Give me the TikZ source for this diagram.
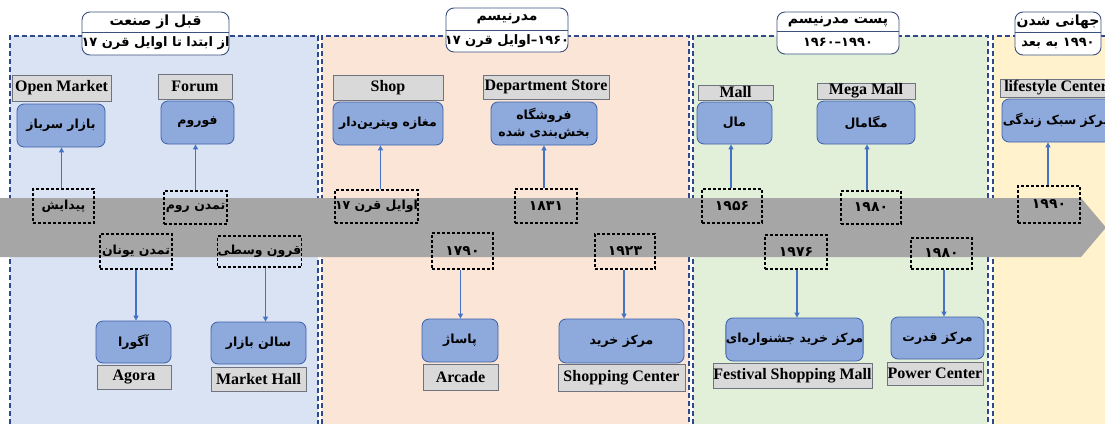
\documentclass[tikz,border=0pt]{standalone}
\usepackage{fontspec}
\setmainfont{Liberation Serif}
\newfontfamily\fa[Script=Arabic]{DejaVu Sans}
\TeXXeTstate=1
\usetikzlibrary{arrows.meta}
\newcommand\rtl[1]{\beginR #1\endR}
\newcommand\ltr[1]{\beginL #1\endL}
\definecolor{pOne}{HTML}{DAE3F3}
\definecolor{pTwo}{HTML}{FBE5D6}
\definecolor{pThree}{HTML}{E2F0D9}
\definecolor{pFour}{HTML}{FFF2CC}
\definecolor{pBorder}{RGB}{47,72,140}
\definecolor{bandGray}{HTML}{A6A6A6}
\definecolor{boxFill}{RGB}{142,169,219}
\definecolor{boxLine}{RGB}{61,96,170}
\definecolor{lblFill}{HTML}{D9D9D9}
\definecolor{lblLine}{RGB}{110,115,125}
\definecolor{arrBlue}{RGB}{68,114,196}
\definecolor{hdrLine}{RGB}{60,80,125}
\begin{document}
\begin{tikzpicture}[x=1pt,y=-1pt,
  panel/.style={draw=pBorder,line width=1.3pt,dash pattern=on 5pt off 3pt},
  lbl/.style={draw=lblLine,fill=lblFill,line width=0.8pt,inner sep=0pt,font=\bfseries\fontsize{16}{18}\selectfont},
  pbox/.style={draw=boxLine,fill=boxFill,rounded corners=7pt,line width=0.8pt,inner sep=0pt,align=center,font=\fa\bfseries\fontsize{12.5}{17}\selectfont},
  dbox/.style={draw=black,dash pattern=on 3pt off 2pt,line width=1.3pt,inner sep=0pt,font=\fa\bfseries\fontsize{12.5}{15}\selectfont},
  num/.style={font=\fa\bfseries\fontsize{14}{16}\selectfont},
  hdr/.style={draw=hdrLine,fill=white,rounded corners=8pt,line width=0.9pt},
  htop/.style={inner sep=0pt,font=\fa\bfseries\fontsize{14}{16}\selectfont},
  hbot/.style={inner sep=0pt,font=\fa\bfseries\fontsize{13}{15}\selectfont},
  link/.style={draw=arrBlue,line width=1.1pt,-{Triangle[length=5pt,width=5pt]}}
]
\useasboundingbox (0,0) rectangle (1105,423);
\clip (0,0) rectangle (1105,423);
% panels
\fill[pOne] (10,36) rectangle (318,440);
\draw[panel] (10,440) -- (10,36) -- (318,36) -- (318,440);
\fill[pTwo] (322,36) rectangle (689,440);
\draw[panel] (322,440) -- (322,36) -- (689,36) -- (689,440);
\fill[pThree] (693,36) rectangle (988,440);
\draw[panel] (693,440) -- (693,36) -- (988,36) -- (988,440);
\fill[pFour] (993,36) rectangle (1120,440);
\draw[panel] (993,440) -- (993,36) -- (1120,36);
% band
\fill[bandGray] (0,198) -- (1081,198) -- (1106,227.5) -- (1081,257) -- (0,257) -- cycle;
% headers
\node[hdr,minimum width=147,minimum height=43] (h1) at (155.5,33.5) {};
\draw[hdrLine,line width=0.9pt] (h1.west |- 0,32) -- (h1.east |- 0,32);
\node[htop] (h1t) at (155.5,22) {\rtl{قبل از صنعت}};
\node[hbot] (h1b) at (155.5,43.5) {\rtl{از ابتدا تا اوایل قرن \ltr{۱۷}}};
\node[hdr,minimum width=122,minimum height=44] (h2) at (507,30) {};
\draw[hdrLine,line width=0.9pt] (h2.west |- 0,30) -- (h2.east |- 0,30);
\node[htop] (h2t) at (507,19) {\rtl{مدرنیسم}};
\node[hbot] (h2b) at (507,41) {\rtl{\ltr{۱۹۶۰}–\kern0pt اوایل قرن \ltr{۱۷}}};
\node[hdr,minimum width=122,minimum height=42] (h3) at (838,33) {};
\draw[hdrLine,line width=0.9pt] (h3.west |- 0,31) -- (h3.east |- 0,31);
\node[htop] (h3t) at (838,21.5) {\rtl{پست مدرنیسم}};
\node[hbot] (h3b) at (838,42.5) {۱۹۶۰\kern0pt–\kern0pt۱۹۹۰};
\node[hdr,minimum width=86,minimum height=43] (h4) at (1058,33.5) {};
\draw[hdrLine,line width=0.9pt] (h4.west |- 0,32) -- (h4.east |- 0,32);
\node[htop] (h4t) at (1058,22) {\rtl{جهانی شدن}};
\node[hbot] (h4b) at (1058,43.5) {\rtl{\ltr{۱۹۹۰} به بعد}};
% top labels
\node[lbl,minimum width=99,minimum height=26] (l1) at (61.5,88) {Open Market};
\node[lbl,minimum width=74,minimum height=25] (l2) at (195,86.5) {Forum};
\node[lbl,minimum width=110,minimum height=25] (l3) at (388,87.5) {Shop};
\node[lbl,minimum width=126,minimum height=24] (l4) at (546,87) {Department Store};
\node[lbl,minimum width=75,minimum height=15] (l5) at (735.5,92.5) {Mall};
\node[lbl,minimum width=98,minimum height=16] (l6) at (866,91) {Mega Mall};
\node[lbl,minimum width=112,minimum height=18] (l7) at (1056,88) {lifestyle Center};
% top boxes
\node[pbox,minimum width=88,minimum height=43] (b1) at (61,125.5) {\rtl{بازار سرباز}};
\node[pbox,minimum width=73,minimum height=43] (b2) at (197.5,122.5) {\rtl{فوروم}};
\node[pbox,minimum width=110,minimum height=43] (b3) at (388,123.5) {\rtl{مغازه ویترین‌دار}};
\node[pbox,minimum width=106,minimum height=43] (b4) at (544,123.5) {\rtl{فروشگاه}\\\rtl{بخش‌بندی شده}};
\node[pbox,minimum width=75,minimum height=42] (b5) at (734.5,123) {\rtl{مال}};
\node[pbox,minimum width=98,minimum height=43] (b6) at (866,122.5) {\rtl{مگامال}};
\node[pbox,minimum width=110,minimum height=43] (b7) at (1057,120.5) {\rtl{مرکز سبک زندگی}};
% dashed boxes
\node[dbox,minimum width=61,minimum height=34] (d1) at (63.5,206) {\rtl{پیدایش}};
\node[dbox,minimum width=63,minimum height=33] (d2) at (195.5,207.5) {\rtl{تمدن روم}};
\node[dbox,minimum width=72,minimum height=35] (d3) at (136,251.5) {\rtl{تمدن یونان}};
\node[dbox,minimum width=75,minimum height=31] (d4) at (259.5,251.5) {\rtl{قرون وسطی}};
\node[dbox,minimum width=83,minimum height=33] (d5) at (376.5,206.5) {\rtl{اوایل قرن \ltr{۱۷}}};
\node[dbox,num,minimum width=62,minimum height=34] (d6) at (546,206) {۱۸۳۱};
\node[dbox,num,minimum width=61,minimum height=36] (d7) at (462.5,251) {۱۷۹۰};
\node[dbox,num,minimum width=60,minimum height=35] (d8) at (625,251.5) {۱۹۲۳};
\node[dbox,num,minimum width=60,minimum height=34] (d9) at (732,206) {۱۹۵۶};
\node[dbox,num,minimum width=60,minimum height=33] (d10) at (871,207.5) {۱۹۸۰};
\node[dbox,num,minimum width=62,minimum height=34] (d11) at (796,252) {۱۹۷۶};
\node[dbox,num,minimum width=61,minimum height=31] (d12) at (941.5,253.5) {۱۹۸۰};
\node[dbox,num,minimum width=62,minimum height=37] (d13) at (1049,204.5) {۱۹۹۰};
% bottom boxes
\node[pbox,minimum width=75,minimum height=42] (b8) at (133.5,342) {\rtl{آگورا}};
\node[pbox,minimum width=95,minimum height=42] (b9) at (258.5,343) {\rtl{سالن بازار}};
\node[pbox,minimum width=76,minimum height=43] (b10) at (460,340.5) {\rtl{پاساژ}};
\node[pbox,minimum width=125,minimum height=44] (b11) at (621.5,341) {\rtl{مرکز خرید}};
\node[pbox,minimum width=137,minimum height=43] (b12) at (794.5,339.5) {\rtl{مرکز خرید جشنواره‌ای}};
\node[pbox,minimum width=93,minimum height=42] (b13) at (937.5,338) {\rtl{مرکز قدرت}};
% bottom labels
\node[lbl,minimum width=74,minimum height=24] (l8) at (134,377) {Agora};
\node[lbl,minimum width=95,minimum height=24] (l9) at (258.5,379) {Market Hall};
\node[lbl,minimum width=75,minimum height=26] (l10) at (460.5,377) {Arcade};
\node[lbl,minimum width=127,minimum height=27] (l11) at (621.5,377.5) {Shopping Center};
\node[lbl,minimum width=159,minimum height=25] (l12) at (792.5,375.5) {Festival Shopping Mall};
\node[lbl,minimum width=96,minimum height=23] (l13) at (935,373.5) {Power Center};
% arrows up
\draw[link] ([xshift=-2]d1.north) -- ([xshift=-2]d1.north |- b1.south);
\draw[link] (d2.north) -- (d2.north |- b2.south);
\draw[link] ([xshift=4]d5.north) -- ([xshift=4]d5.north |- b3.south);
\draw[link] ([xshift=-2]d6.north) -- ([xshift=-2]d6.north |- b4.south);
\draw[link] ([xshift=-1]d9.north) -- ([xshift=-1]d9.north |- b5.south);
\draw[link] ([xshift=-4]d10.north) -- ([xshift=-4]d10.north |- b6.south);
\draw[link] ([xshift=-1]d13.north) -- ([xshift=-1]d13.north |- b7.south);
% arrows down
\draw[link] (d3.south) -- (d3.south |- b8.north);
\draw[link] ([xshift=6]d4.south) -- ([xshift=6]d4.south |- b9.north);
\draw[link] ([xshift=-2]d7.south) -- ([xshift=-2]d7.south |- b10.north);
\draw[link] ([xshift=-1]d8.south) -- ([xshift=-1]d8.south |- b11.north);
\draw[link] ([xshift=1]d11.south) -- ([xshift=1]d11.south |- b12.north);
\draw[link] ([xshift=2.5]d12.south) -- ([xshift=2.5]d12.south |- b13.north);
\end{tikzpicture}
\end{document}
